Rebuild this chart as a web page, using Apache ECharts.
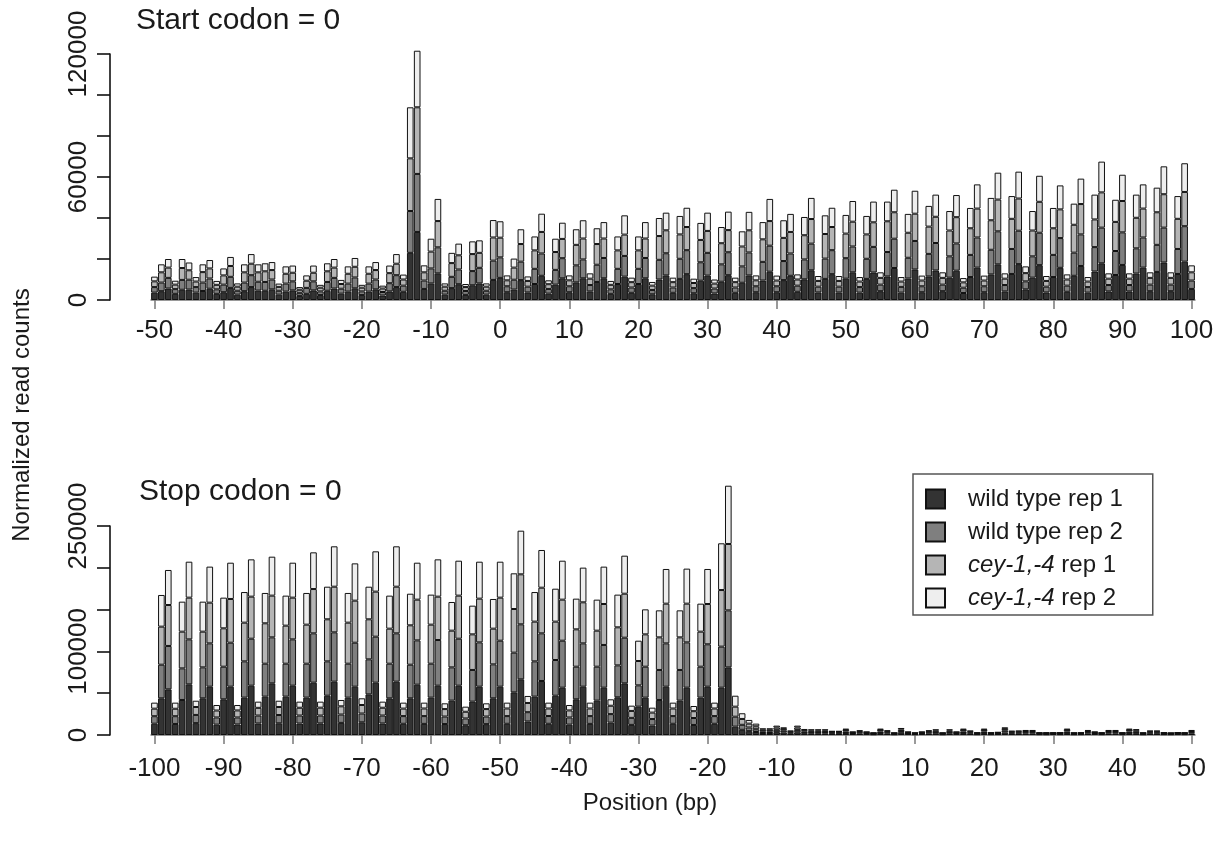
<!DOCTYPE html>
<html>
<head>
<meta charset="utf-8">
<script src="https://cdn.jsdelivr.net/npm/echarts@6/dist/echarts.min.js"></script>
<style>
  html, body { margin: 0; padding: 0; background: #fff; }
  #chart { width: 1222px; height: 843px; }
</style>
</head>
<body>
<div id="chart"></div>
<script>
// Ribosome footprint 5' ends around start and stop codons, stacked by sample.
// All read counts below are in thousands.

// ---- positions (bp) ----
const startPositions = [];
for (let p = -50; p <= 100; p++) startPositions.push(p);
const stopPositions = [];
for (let p = -100; p <= 50; p++) stopPositions.push(p);

const startTickLabels = [-50, -40, -30, -20, -10, 0, 10, 20, 30, 40, 50, 60, 70, 80, 90, 100];
const stopTickLabels = [-100, -90, -80, -70, -60, -50, -40, -30, -20, -10, 0, 10, 20, 30, 40, 50];
const startYLabels = [0, 60000, 120000];
const stopYLabels = [0, 100000, 250000];

const seriesNames = ['wild type rep 1', 'wild type rep 2', 'cey-1,-4 rep 1', 'cey-1,-4 rep 2'];

// ---- start codon = 0 (positions -50 .. 100) ----
const startWt1 = [
  3.6,4.3,5.6,3.0,5.0,5.1,3.6,4.4,5.5,3.0,
  3.8,5.9,2.6,4.3,6.3,4.6,4.5,5.2,2.6,4.1,
  4.7,2.0,3.0,4.7,2.4,4.5,5.6,3.1,4.1,5.7,
  2.4,4.1,5.2,2.2,4.2,6.3,4.0,23.0,33.2,5.4,
  8.1,13.0,2.6,5.8,7.7,2.5,7.2,8.1,2.6,9.8,
  10.8,
  3.8,5.1,9.7,3.7,7.8,11.8,3.1,7.5,10.6,3.8,
  8.6,10.6,4.2,8.8,10.6,3.0,7.8,11.4,3.5,7.8,
  10.6,2.8,10.0,12.0,3.5,10.3,12.6,3.3,9.4,11.9,
  3.2,8.9,12.1,3.5,8.4,12.0,3.8,9.5,13.8,3.8,
  9.7,11.8,4.0,10.1,14.5,3.7,10.3,12.6,3.7,10.4,
  13.5,3.6,10.3,13.4,4.3,11.5,15.6,3.6,10.5,14.9,
  3.8,11.5,14.4,4.3,10.9,14.3,3.4,11.2,15.8,3.8,
  12.5,17.4,4.2,12.7,17.5,5.2,10.9,17.0,3.7,11.2,
  15.7,4.0,11.8,16.6,3.6,13.9,17.9,4.2,12.2,17.1,
  4.2,12.9,15.8,4.3,13.7,18.3,4.3,12.7,18.7,5.4
];
const startWt2 = [
  2.7,4.2,5.2,2.3,4.8,4.8,2.7,4.1,5.0,2.2,
  3.7,5.4,1.9,4.2,5.8,4.3,4.3,4.8,1.9,3.9,
  4.4,1.5,2.9,4.4,1.8,4.3,5.2,2.4,3.9,5.3,
  1.8,3.9,4.8,1.7,4.0,5.8,3.0,20.4,28.3,4.1,
  7.3,12.7,1.9,5.5,7.2,1.9,6.9,7.6,1.9,9.4,
  10.0,
  2.9,4.8,9.0,2.8,7.4,10.9,2.3,7.2,9.8,2.9,
  8.3,9.2,3.1,8.4,9.9,2.2,7.4,10.1,2.6,7.4,
  9.9,2.1,9.6,10.8,2.6,9.8,11.7,2.5,9.0,11.1,
  2.4,8.5,11.2,2.6,8.0,11.2,2.9,9.1,12.7,2.9,
  9.3,10.9,3.0,9.7,13.0,2.8,9.9,11.7,2.8,10.0,
  12.6,2.7,9.8,12.5,3.2,11.9,14.3,2.8,10.1,13.9,
  2.9,11.0,13.4,3.2,10.4,13.3,2.6,10.8,14.7,2.9,
  12.0,16.1,3.1,12.2,16.3,3.9,10.4,15.8,2.8,10.8,
  14.5,3.0,11.3,15.4,2.7,11.9,17.4,3.1,11.7,15.9,
  3.1,12.3,14.7,3.2,13.2,17.0,3.2,12.2,17.3,4.1
];
const startCey1 = [
  2.8,5.0,5.0,2.2,5.8,4.6,2.7,5.1,4.9,2.2,
  4.5,5.3,2.0,5.0,5.6,4.6,5.2,4.6,1.9,4.8,
  4.2,1.5,3.5,4.2,1.8,5.2,5.0,2.3,4.8,5.2,
  1.8,4.8,4.6,1.7,4.9,5.6,3.0,25.7,32.5,4.0,
  8.2,12.8,2.0,6.7,6.9,1.9,8.3,7.3,2.0,11.3,
  9.6,
  2.9,5.9,8.6,2.8,9.0,10.5,2.3,8.7,9.4,2.9,
  10.0,10.2,3.1,10.1,9.5,2.2,9.0,10.4,2.6,9.0,
  9.5,2.1,11.6,11.2,2.6,11.9,11.3,2.5,10.9,10.7,
  2.4,10.3,10.8,2.6,9.7,10.8,2.9,11.0,12.0,2.8,
  11.3,10.5,3.0,11.8,12.0,2.8,12.0,11.3,2.8,12.0,
  12.1,2.7,11.9,12.0,3.3,15.0,12.9,2.6,12.2,13.3,
  2.8,13.3,12.8,3.3,12.6,12.8,2.6,13.0,14.1,2.8,
  14.4,15.5,3.1,14.7,15.7,4.0,12.6,15.1,2.8,13.0,
  14.0,3.0,13.6,14.8,2.7,13.5,17.2,3.1,14.2,15.3,
  3.1,14.9,14.1,3.3,15.9,16.3,3.3,14.7,16.7,4.0
];
const startCey2 = [
  2.3,3.9,4.2,1.9,4.4,3.8,2.2,3.8,4.1,1.9,
  3.4,4.4,1.6,3.9,4.7,3.9,3.9,3.9,1.6,3.6,
  3.5,1.3,2.6,3.5,1.4,3.9,4.2,2.0,3.6,4.3,
  1.4,3.6,3.9,1.4,3.7,4.7,2.4,24.9,27.6,3.4,
  6.3,10.8,1.6,5.0,5.7,1.5,6.2,6.1,1.6,8.5,
  8.0,
  2.4,4.4,7.2,2.2,6.8,8.9,1.9,6.5,7.9,2.4,
  7.6,8.9,2.6,7.7,8.0,1.9,6.8,9.4,2.2,6.8,
  8.0,1.8,8.8,8.6,2.2,9.0,9.4,2.1,8.3,8.9,
  2.0,7.9,9.0,2.2,7.4,9.0,2.4,8.4,10.8,2.4,
  8.6,8.8,2.5,8.9,10.3,2.4,9.1,9.4,2.4,9.1,
  10.1,2.2,9.0,10.1,2.7,9.6,11.0,2.2,9.2,11.2,
  2.4,10.1,10.8,2.7,9.5,10.8,2.1,9.9,11.8,2.4,
  10.9,13.1,2.6,11.1,13.1,3.3,9.5,12.7,2.4,9.9,
  11.7,2.5,10.3,12.4,2.2,12.1,15.0,2.6,10.8,12.8,
  2.6,11.3,11.8,2.7,12.0,13.6,2.7,11.1,14.0,3.4
];

// ---- stop codon = 0 (positions -100 .. 50) ----
const stopWt1 = [
  13.5,43.9,54.6,13.2,41.9,60.6,14.2,43.9,57.8,12.4,
  42.7,57.8,12.6,44.7,59.0,13.8,45.9,61.8,14.0,45.9,
  59.0,13.7,44.7,62.6,13.9,47.0,63.8,14.5,44.7,57.8,
  15.2,48.6,62.6,13.8,43.9,63.8,13.4,43.9,60.2,13.3,
  44.7,59.0,13.1,41.1,59.0,11.7,39.9,57.8,13.0,43.9,
  57.8,13.4,51.0,66.6,16.2,45.9,64.6,13.4,47.0,56.6,
  12.4,42.7,57.8,13.3,41.1,56.6,14.8,45.1,61.8,12.1,
  33.9,44.7,11.3,41.9,57.8,13.4,41.1,56.6,12.0,44.7,
  57.8,13.4,56.6,80.9,10.0,6.2,4.6,3.6,2.4,2.4,
  3.4,2.8,1.7,3.3,2.2,2.1,2.1,2.0,1.6,1.6,
  2.3,
  1.3,1.8,1.3,0.9,2.3,1.8,0.9,2.6,1.3,0.9,
  1.3,1.8,2.1,0.9,2.1,1.3,2.3,1.7,1.0,2.3,
  1.0,1.1,2.8,1.6,1.7,1.9,1.9,1.0,0.9,1.1,
  1.0,2.3,0.9,1.0,1.9,1.3,1.0,1.9,1.9,1.0,
  2.3,2.2,0.9,1.7,1.7,1.0,0.9,1.1,1.0,1.9
];
const stopWt2 = [
  9.0,40.2,51.9,9.3,37.8,53.8,9.8,37.0,51.8,8.6,
  39.0,52.6,8.4,43.4,56.2,9.5,39.4,55.0,9.9,39.4,
  55.4,9.6,40.6,59.0,9.4,41.1,59.0,10.0,40.6,52.6,
  10.5,41.9,55.0,9.5,41.4,57.8,9.2,40.2,53.0,9.3,
  40.6,54.6,9.0,39.8,56.2,8.1,37.9,53.0,9.1,40.6,
  55.0,9.2,47.5,65.8,11.1,42.2,57.0,9.3,42.7,56.2,
  8.6,39.0,51.8,9.3,40.6,51.1,10.2,38.2,54.6,8.4,
  25.5,37.0,7.8,35.9,51.8,9.2,36.7,54.2,8.3,37.0,
  50.7,9.2,49.1,68.2,11.9,6.0,4.4,3.3,2.0,2.0,
  2.8,2.3,1.3,2.8,1.8,1.7,1.7,1.7,1.2,1.2,
  1.9,
  1.0,1.4,1.0,0.7,1.9,1.4,0.7,2.1,1.0,0.7,
  1.0,1.4,1.7,0.7,1.7,1.0,1.9,1.3,0.7,1.9,
  0.7,0.9,2.3,1.2,1.3,1.5,1.5,0.7,0.8,0.7,
  0.8,1.9,0.7,0.8,1.5,1.0,0.7,1.5,1.5,0.8,
  1.9,1.7,0.7,1.3,1.3,0.8,0.7,0.8,0.7,1.5
];
const stopCey1 = [
  9.0,45.5,49.0,8.9,43.9,49.9,9.5,42.7,48.7,8.3,
  45.9,52.3,8.4,46.3,50.3,9.2,48.3,49.9,9.6,45.5,
  49.9,9.3,46.7,53.0,9.4,50.3,54.6,9.8,49.1,50.3,
  10.2,47.9,53.9,9.3,41.9,55.8,9.0,47.1,48.7,9.1,
  46.7,51.9,8.9,43.9,51.5,8.0,42.6,52.3,8.9,42.7,
  51.5,9.1,52.2,59.8,11.0,47.5,54.6,9.0,45.9,49.1,
  8.4,44.7,49.1,9.1,43.1,49.0,10.0,45.5,52.6,8.3,
  29.1,38.7,7.7,39.0,47.5,9.1,39.0,46.3,8.2,41.9,
  48.2,9.1,67.7,79.4,12.0,7.0,4.6,3.5,1.9,1.9,
  2.7,2.2,1.2,2.8,1.8,1.6,1.6,1.7,1.1,1.1,
  1.9,
  0.9,1.3,0.9,0.7,1.9,1.3,0.7,2.0,0.9,0.7,
  0.9,1.3,1.6,0.7,1.6,0.9,1.9,1.2,0.7,1.9,
  0.7,0.8,2.2,1.2,1.2,1.4,1.4,0.7,0.7,0.6,
  0.7,1.9,0.7,0.6,1.4,0.9,0.7,1.4,1.4,0.6,
  1.9,1.7,0.7,1.2,1.2,0.7,0.6,0.7,0.7,1.4
];
const stopCey2 = [
  7.2,37.9,41.9,7.3,35.9,43.0,7.5,35.9,43.1,6.6,
  36.7,43.4,6.5,36.6,44.6,7.4,36.3,46.6,7.5,35.9,
  41.8,7.3,37.9,43.9,7.2,39.0,48.3,7.6,35.5,44.6,
  8.0,39.0,48.2,7.3,39.5,48.3,7.1,37.8,44.2,7.0,
  35.9,44.6,6.9,34.3,41.8,6.1,34.3,44.2,6.9,35.5,
  43.0,7.0,42.7,52.2,8.4,35.4,45.1,7.0,39.4,46.6,
  6.5,36.7,41.5,7.0,37.1,44.7,7.7,39.1,45.5,6.3,
  24.3,29.9,5.9,32.3,41.5,7.0,32.3,41.9,6.2,33.5,
  41.9,7.0,55.9,69.7,13.1,6.8,4.4,3.2,1.7,1.7,
  2.3,1.9,1.0,2.3,1.4,1.4,1.4,1.4,0.9,0.9,
  1.5,
  0.8,1.1,0.8,0.5,1.5,1.1,0.5,1.7,0.8,0.5,
  0.8,1.1,1.4,0.5,1.4,0.8,1.5,1.0,0.6,1.5,
  0.6,0.7,1.9,1.0,1.0,1.2,1.2,0.6,0.6,0.6,
  0.5,1.5,0.6,0.6,1.2,0.8,0.6,1.2,1.2,0.6,
  1.5,1.4,0.6,1.0,1.0,0.6,0.5,0.6,0.6,1.2
];

const THOUSAND = 1000;
const FONT = "'Liberation Sans', Arial, Helvetica, sans-serif";
const TEXT_COLOR = '#1a1a1a';
const fills = ['#333333', '#7f7f7f', '#b5b5b5', '#eeeeee'];

function barSeries(name, fill, values, axisIdx, stack) {
  return {
    name: name,
    type: 'bar',
    stack: stack,
    xAxisIndex: axisIdx,
    yAxisIndex: axisIdx,
    data: values.map(v => v * THOUSAND),
    barCategoryGap: '4%',
    clip: false,
    itemStyle: { color: fill, borderColor: '#111111', borderWidth: 1 },
    emphasis: { disabled: true }
  };
}

function xAxisCfg(gridIdx, cats, ticks, labelMargin) {
  const show = (i) => ticks.indexOf(cats[i]) !== -1;
  return {
    type: 'category',
    gridIndex: gridIdx,
    data: cats.map(String),
    boundaryGap: true,
    axisLine: { show: true, lineStyle: { color: '#7a7a7a', width: 1.5 } },
    axisTick: { show: true, alignWithLabel: true, length: 9, interval: show,
                lineStyle: { color: '#7a7a7a', width: 1.5 } },
    axisLabel: { interval: show, fontSize: 26, color: TEXT_COLOR, fontFamily: FONT, margin: labelMargin },
    splitLine: { show: false }
  };
}

function yAxisCfg(gridIdx, max, step, labelled) {
  return {
    type: 'value',
    gridIndex: gridIdx,
    min: 0,
    max: max,
    interval: step,
    offset: 41,
    axisLine: { show: true, lineStyle: { color: '#111111', width: 1.6 } },
    axisTick: { show: true, length: 13, lineStyle: { color: '#111111', width: 1.6 } },
    axisLabel: {
      rotate: 90, margin: 18, fontSize: 26, color: TEXT_COLOR, fontFamily: FONT,
      formatter: v => (labelled.indexOf(v) !== -1 ? String(v) : '')
    },
    splitLine: { show: false }
  };
}

const titleStyle = { fontSize: 30, fontWeight: 'normal', color: TEXT_COLOR, fontFamily: FONT };

const option = {
  animation: false,
  backgroundColor: '#ffffff',
  title: [
    { text: 'Start codon = 0', left: 136, top: 6, padding: 0, textStyle: titleStyle },
    { text: 'Stop codon = 0', left: 139, top: 477, padding: 0, textStyle: titleStyle }
  ],
  legend: {
    data: seriesNames,
    orient: 'vertical',
    left: 913,
    top: 474,
    padding: [13, 30, 5, 12],
    itemGap: 9,
    itemWidth: 19,
    itemHeight: 19,
    icon: 'rect',
    selectedMode: false,
    backgroundColor: '#ffffff',
    borderColor: '#555555',
    borderWidth: 1.5,
    borderRadius: 0,
    formatter: n => n.replace('cey-1,-4', '{i|cey-1,-4}'),
    textStyle: {
      fontSize: 24, color: TEXT_COLOR, fontFamily: FONT, padding: [0, 0, 0, 18],
      rich: { i: { fontSize: 24, fontStyle: 'italic', color: TEXT_COLOR, fontFamily: FONT } }
    }
  },
  grid: [
    { left: 151, width: 1044, top: 54, height: 246, outerBoundsMode: 'none' },
    { left: 151, width: 1044, top: 526, height: 209, outerBoundsMode: 'none' }
  ],
  xAxis: [
    xAxisCfg(0, startPositions, startTickLabels, 18),
    xAxisCfg(1, stopPositions, stopTickLabels, 21)
  ],
  yAxis: [
    yAxisCfg(0, 120000, 20000, startYLabels),
    yAxisCfg(1, 250000, 50000, stopYLabels)
  ],
  series: [
    barSeries(seriesNames[0], fills[0], startWt1, 0, 'start'),
    barSeries(seriesNames[1], fills[1], startWt2, 0, 'start'),
    barSeries(seriesNames[2], fills[2], startCey1, 0, 'start'),
    barSeries(seriesNames[3], fills[3], startCey2, 0, 'start'),
    barSeries(seriesNames[0], fills[0], stopWt1, 1, 'stop'),
    barSeries(seriesNames[1], fills[1], stopWt2, 1, 'stop'),
    barSeries(seriesNames[2], fills[2], stopCey1, 1, 'stop'),
    barSeries(seriesNames[3], fills[3], stopCey2, 1, 'stop')
  ],
  graphic: [
    {
      type: 'text', x: 22, y: 415, rotation: Math.PI / 2,
      style: { text: 'Normalized read counts', fill: TEXT_COLOR, font: '24px ' + FONT,
               align: 'center', verticalAlign: 'middle' }
    },
    {
      type: 'text', x: 650, y: 803,
      style: { text: 'Position (bp)', fill: TEXT_COLOR, font: '24px ' + FONT,
               align: 'center', verticalAlign: 'middle' }
    }
  ]
};

const chart = echarts.init(document.getElementById('chart'), null, { renderer: 'canvas' });
chart.setOption(option);
</script>
</body>
</html>
